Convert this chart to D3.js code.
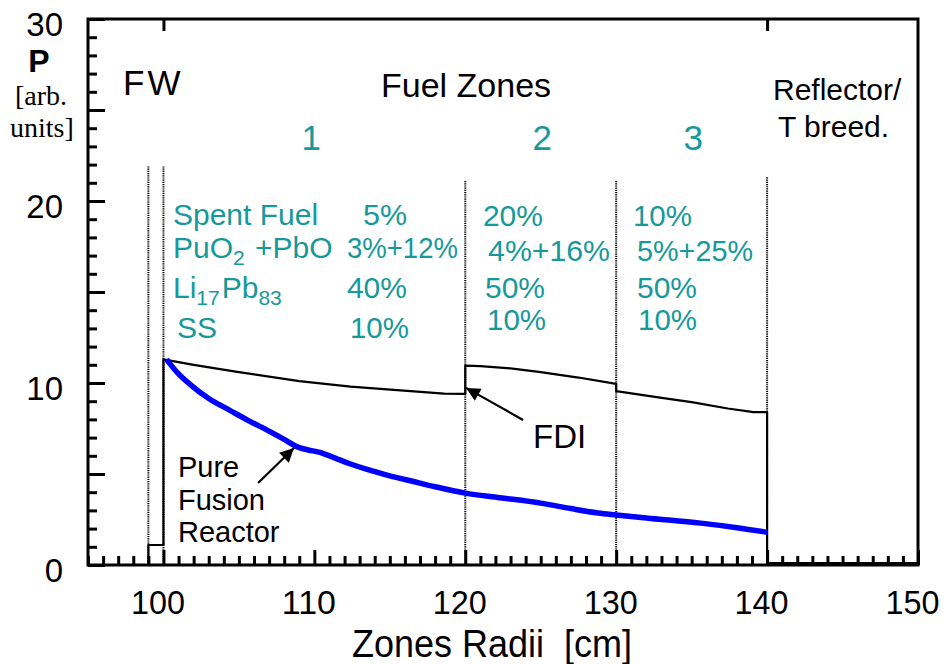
<!DOCTYPE html>
<html>
<head>
<meta charset="utf-8">
<script src="https://cdn.jsdelivr.net/npm/d3@7"></script>
<style>
  html, body { margin: 0; padding: 0; background: #fff; }
  svg { display: block; }
  text { font-family: "Liberation Sans", Arial, Helvetica, sans-serif; }
</style>
</head>
<body>
<svg id="chart" width="951" height="664"></svg>
<script>
// ---------------- data ----------------
const xTickLabels = [100, 110, 120, 130, 140, 150];
const yTickLabels = [0, 10, 20, 30];
const topTicks = [100, 140];

// FDI power profile (black thin line)
const fdiR = [99, 99, 100, 100, 102, 105, 109, 112.4, 115.7, 118.6, 120, 120, 121, 123, 125, 127.5, 130,
              130, 132.9, 135, 137.4, 139.1, 140, 140, 150];
const fdiP = [0, 1.1, 1.1, 11.3, 11.0, 10.6, 10.1, 9.8, 9.6, 9.42, 9.4, 10.95, 10.93, 10.8, 10.6, 10.3, 9.95,
              9.55, 9.2, 8.95, 8.6, 8.4, 8.4, 0.1, 0.1];

// Pure fusion reactor profile (blue thick line)
const fusionR = [100.2, 101, 101.8, 103, 104.4, 105.6, 106.9, 108, 109, 109.6, 110.3, 111.3, 112.4, 113.5,
                 115, 116.5, 118, 120, 122.3, 125, 127, 128.8, 130, 132, 135.6, 138, 140];
const fusionP = [11.3, 10.5, 9.9, 9.15, 8.5, 7.95, 7.4, 6.9, 6.45, 6.32, 6.2, 5.9, 5.55, 5.25,
                 4.9, 4.6, 4.3, 3.95, 3.7, 3.4, 3.1, 2.86, 2.75, 2.58, 2.3, 2.05, 1.8];

// zone boundaries (dotted) : radius and top in P units
const dividerR = [99, 100, 120, 130, 140];
const dividerTop = [21.9, 21.9, 21.1, 21.1, 21.3];

// Zone headings
const zoneNames = ["1", "2", "3"];
const zoneCenters = [109.8, 125.1, 135.1];

// composition table
const rowLabels = ["Spent Fuel", "PuO2+PbO", "Li17Pb83", "SS"];
const zone1Values = ["5%", "3%+12%", "40%", "10%"];
const zone2Values = ["20%", "4%+16%", "50%", "10%"];
const zone3Values = ["10%", "5%+25%", "50%", "10%"];

// ---------------- layout ----------------
const svg = d3.select("#chart");
const x = d3.scaleLinear().domain([95, 150]).range([88, 918]);
const y = d3.scaleLinear().domain([0, 30]).range([565, 19]);
const teal = "#16999a";

svg.append("rect").attr("width", 951).attr("height", 664).attr("fill", "#fff");

// ---------------- axes ----------------
function styleAxis(g) {
  g.select(".domain").remove();
  g.selectAll(".tick line").attr("stroke", "#000").attr("stroke-width", 3);
  g.selectAll(".tick text").attr("fill", "#000");
}
const minorX = d3.range(95, 151, 1).filter(v => v % 10 !== 0);
svg.append("g").attr("transform", `translate(0,${y(0)})`)
  .call(d3.axisBottom(x).tickValues(minorX).tickSize(-9).tickFormat(""))
  .call(styleAxis);
svg.append("g").attr("transform", `translate(0,${y(0)})`)
  .call(d3.axisBottom(x).tickValues(xTickLabels).tickSize(-15).tickPadding(26).tickFormat(d3.format("d")))
  .call(styleAxis)
  .call(g => g.selectAll(".tick text").attr("font-size", 33).attr("dx", -6)
    .attr("textLength", 54).attr("lengthAdjust", "spacingAndGlyphs"));

const minorY = d3.range(0, 31, 1).filter(v => v % 5 !== 0);
const midY = d3.range(0, 31, 5);
svg.append("g").attr("transform", `translate(${x(95)},0)`)
  .call(d3.axisLeft(y).tickValues(minorY).tickSize(-9).tickFormat(""))
  .call(styleAxis);
svg.append("g").attr("transform", `translate(${x(95)},0)`)
  .call(d3.axisLeft(y).tickValues(midY).tickSize(-17).tickFormat(""))
  .call(styleAxis);
svg.append("g").attr("transform", `translate(${x(95)},0)`)
  .call(d3.axisLeft(y).tickValues(yTickLabels).tickSize(0).tickPadding(25).tickFormat(d3.format("d")))
  .call(styleAxis)
  .call(g => g.selectAll(".tick text").attr("font-size", 33).attr("dy", "0.5em"));

svg.append("g").attr("transform", `translate(0,${y(30)})`)
  .call(d3.axisTop(x).tickValues(topTicks).tickSize(-12).tickFormat(""))
  .call(styleAxis);

// frame
svg.append("rect")
  .attr("x", x(95)).attr("y", y(30))
  .attr("width", x(150) - x(95)).attr("height", y(0) - y(30))
  .attr("fill", "none").attr("stroke", "#000").attr("stroke-width", 3);

// ---------------- dividers ----------------
svg.append("g").selectAll("line").data(dividerR).join("line")
  .attr("x1", d => x(d)).attr("x2", d => x(d))
  .attr("y1", (d, i) => y(dividerTop[i])).attr("y2", y(0))
  .attr("stroke", "#000").attr("stroke-width", 2).attr("stroke-dasharray", "1.2,1");

// ---------------- lines ----------------
const fdiData = fdiR.map((r, i) => [r, fdiP[i]]);
const fusionData = fusionR.map((r, i) => [r, fusionP[i]]);

svg.append("path").datum(fdiData)
  .attr("d", d3.line().x(d => x(d[0])).y(d => y(d[1])))
  .attr("fill", "none").attr("stroke", "#000").attr("stroke-width", 2.2)
  .attr("stroke-linejoin", "round");

svg.append("path").datum(fusionData)
  .attr("d", d3.line().curve(d3.curveMonotoneX).x(d => x(d[0])).y(d => y(d[1])))
  .attr("fill", "none").attr("stroke", "#0000ff").attr("stroke-width", 5.5)
  .attr("stroke-linejoin", "round");

// ---------------- arrows ----------------
const defs = svg.append("defs");
defs.append("marker").attr("id", "ah")
  .attr("viewBox", "0 0 10 10").attr("refX", 10).attr("refY", 5)
  .attr("markerUnits", "userSpaceOnUse").attr("markerWidth", 17).attr("markerHeight", 14)
  .attr("orient", "auto")
  .append("path").attr("d", "M0,0 L10,5 L0,10 Z").attr("fill", "#000");

const arrows = [
  {from: [106.27, 4.51], to: [108.65, 6.43]},
  {from: [123.83, 7.97], to: [120.05, 9.73]}
];
svg.append("g").selectAll("line").data(arrows).join("line")
  .attr("x1", d => x(d.from[0])).attr("y1", d => y(d.from[1]))
  .attr("x2", d => x(d.to[0])).attr("y2", d => y(d.to[1]))
  .attr("stroke", "#000").attr("stroke-width", 2.2).attr("marker-end", "url(#ah)");

// ---------------- annotations ----------------
function addText(txt, r, p, size, opts = {}) {
  const t = svg.append("text").attr("x", x(r)).attr("y", y(p))
    .attr("font-size", size).attr("fill", opts.fill || "#000")
    .attr("text-anchor", opts.anchor || "start").text(txt);
  if (opts.ls) t.attr("letter-spacing", opts.ls);
  if (opts.len) t.attr("textLength", opts.len).attr("lengthAdjust", "spacingAndGlyphs");
  return t;
}
addText("FW", 97.32, 25.82, 35, {ls: 3});
addText("Fuel Zones", 120.05, 25.71, 34, {anchor: "middle"});
addText("Reflector/", 140.39, 25.55, 30);
addText("T breed.", 140.72, 23.52, 30);

zoneNames.forEach((z, i) => addText(z, zoneCenters[i], 22.8, 35, {anchor: "middle", fill: teal}));

const rowBase = [18.68, 16.87, 14.67, 12.5];
const rowBase23 = [18.6, 16.7, 14.67, 12.9];
function withSubs(t, label) {
  const parts = label === "PuO2+PbO" ? [["PuO", 0], ["2", 1], [" +PbO", 0]]
              : label === "Li17Pb83" ? [["Li", 0], ["17", 1], ["Pb", 0], ["83", 1]]
              : [[label, 0]];
  let sub = false;
  parts.forEach(([s, isSub]) => {
    const ts = t.append("tspan").text(s);
    if (isSub) ts.attr("font-size", 21);
    if (isSub && !sub) { ts.attr("dy", 7); sub = true; }
    else if (!isSub && sub) { ts.attr("dy", -7).attr("dx", 2); sub = false; }
  });
}
const labelR = [100.63, 100.63, 100.63, 100.9];
rowLabels.forEach((lab, i) => {
  const t = svg.append("text").attr("x", x(labelR[i])).attr("y", y(rowBase[i]))
    .attr("font-size", 30).attr("fill", teal).style("white-space", "pre");
  withSubs(t, lab);
});
const z1R = [113.22, 112.16, 112.16, 112.36];
const z2R = [121.17, 121.51, 121.31, 121.44];
const z3R = [131.11, 131.38, 131.38, 131.45];
const z1Len = [44, 111, 60, 59];
const z2Len = [60, 122, 60, 59];
const z3Len = [59, 116, 60, 59];
zone1Values.forEach((v, i) => addText(v, z1R[i], rowBase[i], 30, {fill: teal, len: z1Len[i]}));
zone2Values.forEach((v, i) => addText(v, z2R[i], rowBase23[i], 30, {fill: teal, len: z2Len[i]}));
zone3Values.forEach((v, i) => addText(v, z3R[i], rowBase23[i], 30, {fill: teal, len: z3Len[i]}));

addText("Pure", 100.96, 4.84, 29);
addText("Fusion", 100.96, 3.02, 29);
addText("Reactor", 100.96, 1.26, 29);
addText("FDI", 124.49, 6.43, 33);

// ---------------- axis titles ----------------
svg.append("text").attr("x", 39).attr("y", 72).attr("text-anchor", "middle")
  .attr("font-size", 32).attr("font-weight", "bold").text("P");
svg.append("text").attr("x", 15).attr("y", 105).attr("font-size", 28)
  .style("font-family", "'Liberation Serif', 'Times New Roman', serif").text("[arb.");
svg.append("text").attr("x", 10).attr("y", 137).attr("font-size", 28)
  .style("font-family", "'Liberation Serif', 'Times New Roman', serif").text("units]");
svg.append("text").attr("x", 492).attr("y", 657).attr("text-anchor", "middle")
  .attr("font-size", 38).attr("textLength", 280).attr("lengthAdjust", "spacingAndGlyphs")
  .style("white-space", "pre")
  .text("Zones Radii  [cm]");
</script>
</body>
</html>
